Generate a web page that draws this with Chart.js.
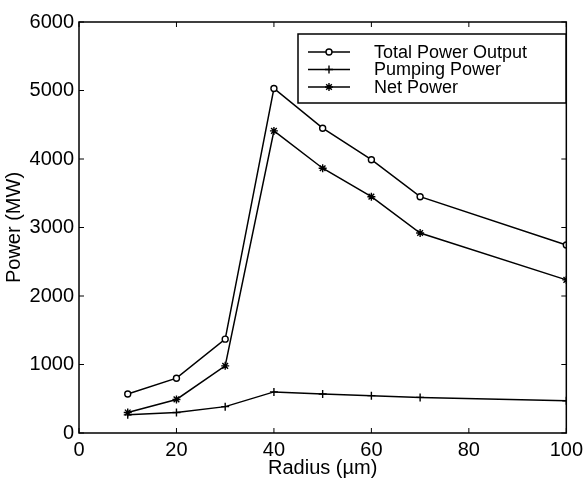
<!doctype html>
<html>
<head>
<meta charset="utf-8">
<title>Power vs Radius</title>
<script src="https://cdn.jsdelivr.net/npm/chart.js@4/dist/chart.umd.min.js"></script>
<style>
body { margin: 0; background: #fff; }
</style>
</head>
<body>
<canvas id="powerChart" width="588" height="480"></canvas>
<script>
// values
var radius = [10, 20, 30, 40, 50, 60, 70, 100];
var totalPower = [570, 800, 1370, 5030, 4450, 3990, 3450, 2745];
var pumpingPower = [265, 300, 385, 600, 570, 545, 520, 470];
var netPower = [300, 490, 980, 4410, 3865, 3450, 2920, 2235];
var seriesNames = ['Total Power Output', 'Pumping Power', 'Net Power'];
var xTicks = [0, 20, 40, 60, 80, 100];
var yTicks = [0, 1000, 2000, 3000, 4000, 5000, 6000];

var FONT = '"Liberation Sans", Arial, Helvetica, sans-serif';

function pts(vals) {
	return radius.map(function(r, i) { return {x: r, y: vals[i]}; });
}

function series(name, vals, style, r) {
	return {
		label: name,
		data: pts(vals),
		borderColor: '#000',
		borderWidth: 1.5,
		pointStyle: style,
		pointRadius: r,
		pointBorderWidth: 1.4,
		pointBorderColor: '#000',
		pointBackgroundColor: '#fff',
		tension: 0,
		fill: false
	};
}

// box, inward ticks on all four sides, and the legend inside the plot
var framePlugin = {
	id: 'frame',
	afterDatasetsDraw: function(chart) {
		var ctx = chart.ctx, a = chart.chartArea;
		var xs = chart.scales.x, ys = chart.scales.y;
		ctx.save();
		ctx.strokeStyle = '#000';
		ctx.lineWidth = 1.5;
		ctx.strokeRect(a.left, a.top, a.right - a.left, a.bottom - a.top);
		ctx.lineWidth = 1;
		ctx.beginPath();
		xTicks.forEach(function(v) {
			var px = xs.getPixelForValue(v);
			ctx.moveTo(px, a.bottom); ctx.lineTo(px, a.bottom - 5);
			ctx.moveTo(px, a.top); ctx.lineTo(px, a.top + 5);
		});
		yTicks.forEach(function(v) {
			var py = ys.getPixelForValue(v);
			ctx.moveTo(a.left, py); ctx.lineTo(a.left + 5, py);
			ctx.moveTo(a.right, py); ctx.lineTo(a.right - 5, py);
		});
		ctx.stroke();

		// legend
		var bx = 298, by = 34, bw = 268, bh = 69;
		ctx.fillStyle = '#fff';
		ctx.fillRect(bx, by, bw, bh);
		ctx.lineWidth = 1.5;
		ctx.strokeRect(bx, by, bw, bh);
		ctx.font = '18px ' + FONT;
		ctx.textBaseline = 'middle';
		ctx.textAlign = 'left';
		chart.data.datasets.forEach(function(ds, i) {
			var y = by + 18 + i * 17.5;
			ctx.strokeStyle = '#000';
			ctx.lineWidth = ds.borderWidth;
			ctx.beginPath();
			ctx.moveTo(308, y); ctx.lineTo(350, y);
			ctx.stroke();
			ctx.fillStyle = ds.pointBackgroundColor;
			ctx.lineWidth = ds.pointBorderWidth;
			Chart.helpers.drawPoint(ctx, {
				pointStyle: ds.pointStyle,
				radius: ds.pointRadius,
				borderWidth: ds.pointBorderWidth,
				rotation: 0
			}, 329, y);
			ctx.fillStyle = '#000';
			ctx.fillText(ds.label, 374, y + 1);
		});
		ctx.restore();
	}
};

var ctx = document.getElementById('powerChart').getContext('2d');
var powerChart = new Chart(ctx, {
	type: 'line',
	data: {
		datasets: [
			series(seriesNames[0], totalPower, 'circle', 3),
			series(seriesNames[1], pumpingPower, 'cross', 4),
			series(seriesNames[2], netPower, 'star', 4)
		]
	},
	options: {
		responsive: false,
		animation: false,
		devicePixelRatio: 1,
		layout: { padding: { top: 22, right: 19, bottom: 0, left: 0 } },
		plugins: {
			legend: { display: false },
			tooltip: { enabled: false }
		},
		scales: {
			x: {
				type: 'linear',
				min: 0,
				max: 100,
				grid: { display: false, drawTicks: false },
				border: { display: false },
				ticks: {
					stepSize: 20,
					padding: 5,
					color: '#000',
					font: { family: FONT, size: 20 },
					callback: function(v) { return String(v); }
				},
				title: {
					display: true,
					text: 'Radius (µm)',
					color: '#000',
					font: { family: FONT, size: 20 },
					padding: { top: 0, bottom: 0 }
				},
				afterFit: function(s) { s.height = 47; }
			},
			y: {
				min: 0,
				max: 6000,
				grid: { display: false, drawTicks: false },
				border: { display: false },
				ticks: {
					stepSize: 1000,
					padding: 5,
					color: '#000',
					font: { family: FONT, size: 20 },
					callback: function(v) { return String(v); }
				},
				title: {
					display: true,
					text: 'Power (MW)',
					color: '#000',
					font: { family: FONT, size: 20 },
					padding: { top: 2, bottom: 0 }
				},
				afterFit: function(s) { s.width = 79; }
			}
		}
	},
	plugins: [framePlugin]
});
</script>
</body>
</html>
